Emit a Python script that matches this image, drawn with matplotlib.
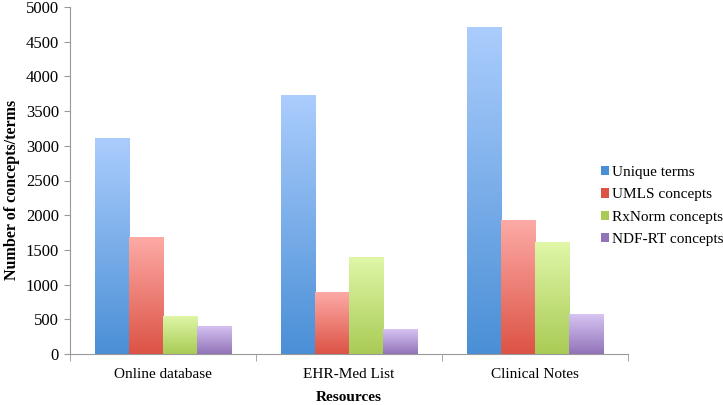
import numpy as np
import matplotlib
matplotlib.use('Agg')
from matplotlib import pyplot as plt
from matplotlib.colors import LinearSegmentedColormap
from matplotlib.patches import Patch

plt.rcParams['font.family'] = ['Liberation Serif', 'DejaVu Serif']

categories = ['Online database', 'EHR-Med List', 'Clinical Notes']
series_names = ['Unique terms', 'UMLS concepts', 'RxNorm concepts', 'NDF-RT concepts']
unique_terms = [3110, 3730, 4710]
umls_concepts = [1680, 890, 1930]
rxnorm_concepts = [550, 1400, 1610]
ndfrt_concepts = [410, 360, 570]
y_ticks = [0, 500, 1000, 1500, 2000, 2500, 3000, 3500, 4000, 4500, 5000]

series = [unique_terms, umls_concepts, rxnorm_concepts, ndfrt_concepts]
# (top colour, bottom colour) for the gradient fill
gradients = [('#abcdfd', '#4a8fd6'),
             ('#fdaaa6', '#dc5345'),
             ('#e0f7a8', '#a9cb55'),
             ('#d6c4f2', '#9273b9')]

fig = plt.figure(figsize=(7.23, 4.05), dpi=100)
ax = fig.add_axes([70 / 723, 1 - 354 / 405, 558 / 723, 347 / 405])

bar_w = 0.183
x = np.arange(len(categories))
grad = np.linspace(1, 0, 256).reshape(-1, 1)
for i, vals in enumerate(series):
    cmap = LinearSegmentedColormap.from_list('g%d' % i, [gradients[i][1], gradients[i][0]])
    offs = (i - 1.5) * bar_w
    bars = ax.bar(x + offs, vals, bar_w, color='none', edgecolor='none')
    for b in bars:
        bx, bw, bh = b.get_x(), b.get_width(), b.get_height()
        im = ax.imshow(grad, cmap=cmap, aspect='auto', extent=[bx, bx + bw, 0, bh],
                       vmin=0, vmax=1, zorder=2)
        im.set_clip_path(b)

ax.set_xlim(-0.5, 2.5)
ax.set_ylim(0, 5000)
ax.set_yticks(y_ticks)
ax.tick_params(axis='y', labelsize=12, length=4, color='#999999', pad=4)
ax.set_xticks(x)
ax.set_xticklabels(categories)
ax.set_xticks([-0.5, 0.5, 1.5, 2.5], minor=True)
ax.tick_params(axis='x', which='major', length=0, labelsize=11, pad=10)
ax.tick_params(axis='x', which='minor', length=5, color='#999999')
for s in ['top', 'right']:
    ax.spines[s].set_visible(False)
for s in ['left', 'bottom']:
    ax.spines[s].set_color('#999999')
ax.set_ylabel('Number of concepts/terms', fontsize=11.5, fontweight='bold')
ax.yaxis.set_label_coords(-0.09, 0.474)
ax.set_xlabel('Resources', fontsize=11, fontweight='bold')
ax.xaxis.set_label_coords(0.5, -0.108)

handles = [Patch(facecolor=gradients[i][1], edgecolor='none') for i in range(4)]
fig.legend(handles, series_names, loc='center left', bbox_to_anchor=(601 / 723, 1 - 206 / 405),
           frameon=False, fontsize=11, handlelength=0.55, handleheight=0.55,
           handletextpad=0.2, labelspacing=0.6, borderpad=0, borderaxespad=0)

fig.savefig('out.png', dpi=100)
